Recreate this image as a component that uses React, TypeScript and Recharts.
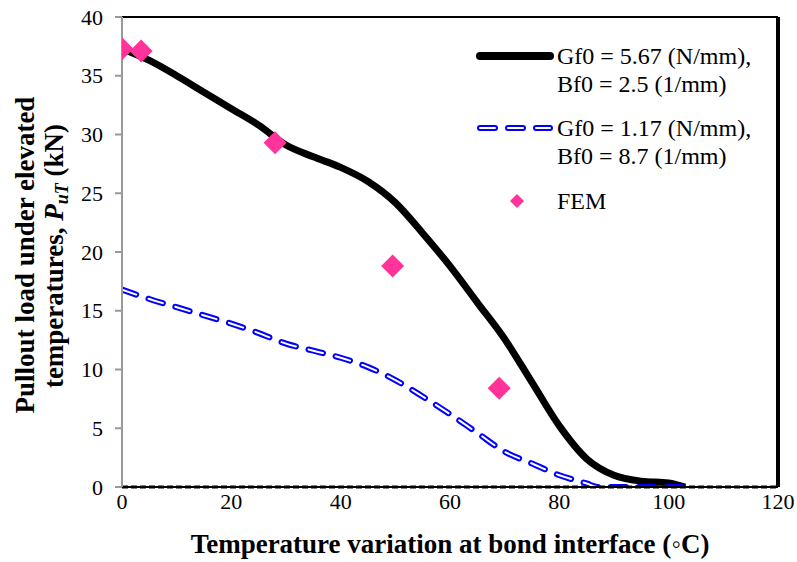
import React from 'react';
import { ComposedChart, Line, Scatter, XAxis, YAxis, ReferenceLine } from 'recharts';

const FONT = 'Liberation Serif';

// Solid black curve: Gf0 = 5.67 (N/mm), Bf0 = 2.5 (1/mm)
const blackTemps = [0, 5, 10, 15, 20, 25, 30, 35, 40, 45, 50, 55, 60, 65, 70, 75, 80, 85, 90, 95, 100, 103];
const blackLoads = [37.3, 36.3, 35.0, 33.6, 32.2, 30.8, 29.1, 28.1, 27.2, 26.0, 24.2, 21.6, 18.8, 15.7, 12.6, 8.9, 5.2, 2.4, 1.0, 0.5, 0.35, 0];

// Dashed blue curve: Gf0 = 1.17 (N/mm), Bf0 = 8.7 (1/mm)
const blueTemps = [0, 5, 10, 15, 20, 25, 30, 35, 40, 45, 50, 55, 60, 65, 70, 75, 80, 85, 87, 90, 95, 100, 103];
const blueLoads = [16.8, 16.0, 15.3, 14.6, 13.9, 13.1, 12.2, 11.6, 11.0, 10.2, 9.1, 7.7, 6.2, 4.6, 3.0, 2.0, 1.0, 0.3, 0, 0, 0, 0, 0];

// FEM points
const femTemps = [0, 3.5, 28, 49.5, 69];
const femLoads = [37.3, 37.1, 29.3, 18.8, 8.4];

const xTicks = [0, 20, 40, 60, 80, 100, 120];
const yTicks = [0, 5, 10, 15, 20, 25, 30, 35, 40];

const seriesLabels = [
  ['Gf0 = 5.67 (N/mm),', 'Bf0 = 2.5 (1/mm)'],
  ['Gf0 = 1.17 (N/mm),', 'Bf0 = 8.7 (1/mm)'],
  ['FEM'],
];

const xTitle = 'Temperature variation at bond interface (\u25E6C)';
const yTitle1 = 'Pullout load under elevated';
const yTitle2 = 'temperatures, ';

const blackData = blackTemps.map((x, i) => ({ x, y: blackLoads[i] }));
const blueData = blueTemps.map((x, i) => ({ x, y: blueLoads[i] }));
const femData = femTemps.map((x, i) => ({ x, y: femLoads[i] }));

const PINK = '#FF3399';
const BLUE = '#0000FF';

const Diamond = (props: any) => {
  const { cx, cy } = props;
  const r = 11.5;
  return <polygon points={`${cx},${cy - r} ${cx + r},${cy} ${cx},${cy + r} ${cx - r},${cy}`} fill={PINK} />;
};

const LegendBox = () => (
  <svg width={300} height={190} style={{ display: 'block', position: 'absolute', left: 466, top: 30 }}>
    <line x1={14} y1={26} x2={84} y2={26} stroke="#000" strokeWidth={8} strokeLinecap="round" />
    <text x={91} y={34} fontFamily={FONT} fontSize={24} fill="#000">{seriesLabels[0][0]}</text>
    <text x={91} y={62} fontFamily={FONT} fontSize={24} fill="#000">{seriesLabels[0][1]}</text>
    <line x1={14} y1={98} x2={84} y2={98} stroke={BLUE} strokeWidth={6} strokeDasharray="15 13" strokeLinecap="round" />
    <line x1={14} y1={98} x2={84} y2={98} stroke="#fff" strokeWidth={2} strokeDasharray="15 13" strokeLinecap="round" />
    <text x={91} y={106} fontFamily={FONT} fontSize={24} fill="#000">{seriesLabels[1][0]}</text>
    <text x={91} y={134} fontFamily={FONT} fontSize={24} fill="#000">{seriesLabels[1][1]}</text>
    <polygon points="51,164 58,171 51,178 44,171" fill={PINK} />
    <text x={91} y={179} fontFamily={FONT} fontSize={24} fill="#000">{seriesLabels[2][0]}</text>
  </svg>
);

const XTick = (props: any) => {
  const { x, y, payload } = props;
  return (
    <text x={x} y={y + 22} textAnchor="middle" fontFamily={FONT} fontSize={22} fill="#000">
      {payload.value}
    </text>
  );
};

const YTick = (props: any) => {
  const { x, y, payload } = props;
  return (
    <text x={x} y={y + 7.5} textAnchor="end" fontFamily={FONT} fontSize={22} fill="#000">
      {payload.value}
    </text>
  );
};

const YTitle = () => (
  <g>
    <text x={34} y={255} transform="rotate(-90 34 255)" textAnchor="middle" fontFamily={FONT} fontWeight="bold" fontSize={27} fill="#000">{yTitle1}</text>
    <text x={63} y={256} transform="rotate(-90 63 256)" textAnchor="middle" fontFamily={FONT} fontWeight="bold" fontSize={27} fill="#000">
      {yTitle2}
      <tspan fontStyle="italic">P</tspan>
      <tspan fontStyle="italic" fontSize={18} dy={5}>uT</tspan>
      <tspan dy={-5}> (kN)</tspan>
    </text>
  </g>
);

const XTitle = () => (
  <text x={450} y={553} textAnchor="middle" fontFamily={FONT} fontWeight="bold" fontSize={27} fill="#000">
    {xTitle}
  </text>
);

export default function App() {
  return (
    <div style={{ position: 'absolute', left: 0, top: 0, width: 797, height: 562, background: '#fff' }}>
      <ComposedChart width={797} height={562} margin={{ top: 17, right: 19, bottom: 45, left: 62 }}>
        <XAxis
          type="number"
          dataKey="x"
          domain={[0, 120]}
          ticks={xTicks}
          allowDataOverflow
          height={30}
          tickSize={0}
          tickMargin={0}
          axisLine={{ stroke: '#000', strokeWidth: 2 }}
          tick={<XTick />}
          label={{ content: () => <XTitle /> }}
        />
        <YAxis
          type="number"
          dataKey="y"
          domain={[0, 40]}
          ticks={yTicks}
          allowDataOverflow
          width={60}
          tickSize={7}
          tickMargin={12}
          axisLine={{ stroke: '#999', strokeWidth: 2 }}
          tickLine={{ stroke: '#999', strokeWidth: 2 }}
          tick={<YTick />}
          label={{ content: () => <YTitle /> }}
        />
        <ReferenceLine x={0} stroke="#000" strokeWidth={2} />
        <ReferenceLine y={40} stroke="#000" strokeWidth={2} />
        <ReferenceLine x={120} stroke="#000" strokeWidth={4} />
        <ReferenceLine y={0} stroke="#000" strokeWidth={3} strokeDasharray="6 3" />
        <Line
          data={blackData}
          dataKey="y"
          type="monotone"
          stroke="#000"
          strokeWidth={7}
          dot={false}
          activeDot={false}
          isAnimationActive={false}
          legendType="none"
        />
        <Line
          data={blueData}
          dataKey="y"
          type="monotone"
          stroke={BLUE}
          strokeWidth={6}
          strokeDasharray="15 13"
          strokeLinecap="round"
          dot={false}
          activeDot={false}
          isAnimationActive={false}
          legendType="none"
        />
        <Line
          data={blueData}
          dataKey="y"
          type="monotone"
          stroke="#fff"
          strokeWidth={2}
          strokeDasharray="15 13"
          strokeLinecap="round"
          dot={false}
          activeDot={false}
          isAnimationActive={false}
          legendType="none"
        />
        <Scatter data={femData} dataKey="y" shape={<Diamond />} isAnimationActive={false} legendType="none" />
      </ComposedChart>
      <LegendBox />
    </div>
  );
}
